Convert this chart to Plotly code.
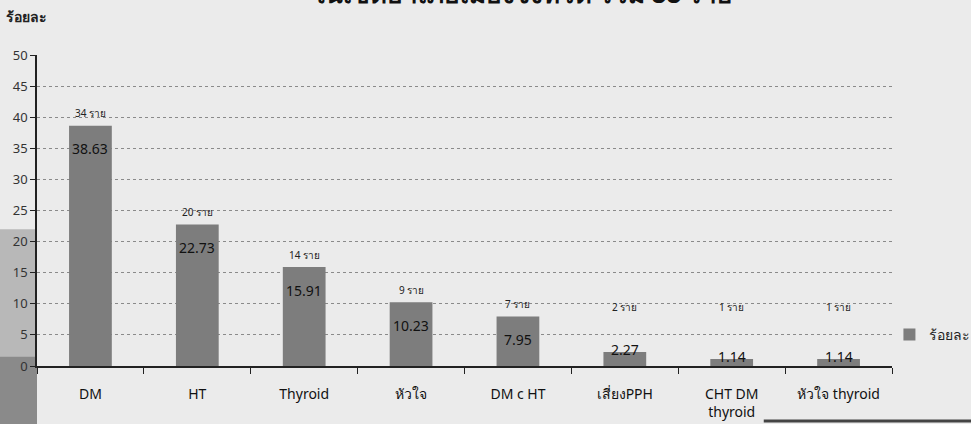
import plotly.graph_objects as go

categories = ["DM", "HT", "Thyroid", "หัวใจ", "DM c HT", "เสี่ยงPPH", "CHT DM<br>thyroid", "หัวใจ thyroid"]
percent = [38.63, 22.73, 15.91, 10.23, 7.95, 2.27, 1.14, 1.14]
cases = [34, 20, 14, 9, 7, 2, 1, 1]
series_name = "ร้อยละ"
title_text = "ในเขตอำเภอเมืองจังหวัด รวม 88 ราย"
y_ticks = [0, 5, 10, 15, 20, 25, 30, 35, 40, 45, 50]

FONT = "Noto Sans, Tahoma, DejaVu Sans, sans-serif"

fig = go.Figure()
fig.add_trace(go.Bar(
    x=categories, y=percent, name=series_name,
    marker=dict(color="#7d7d7d", line=dict(width=0)),
    width=0.4, showlegend=True,
))

ann = []
for c, v, n in zip(categories, percent, cases):
    if v > 5:
        ann.append(dict(x=c, y=v, text=f"{v:.2f}", showarrow=False, yanchor="middle",
                        yshift=-23, font=dict(size=14, color="#111", family=FONT)))
    else:
        ann.append(dict(x=c, y=v, text=f"{v:.2f}", showarrow=False, yanchor="middle",
                        yshift=2, font=dict(size=14, color="#111", family=FONT)))
    ann.append(dict(x=c, y=max(v + 2, 9.5), text=f"{n} ราย", showarrow=False, yanchor="middle",
                    font=dict(size=10, color="#222", family=FONT)))

ann.append(dict(xref="paper", yref="paper", x=-0.039, y=1.125, xanchor="left", yanchor="middle",
                text="<b>ร้อยละ</b>", showarrow=False, font=dict(size=14, color="#222", family=FONT)))
ann.append(dict(xref="paper", yref="paper", x=0.567, y=1.2, xanchor="center", yanchor="middle",
                text=f"<b>{title_text}</b>", showarrow=False, font=dict(size=26, color="#111", family=FONT)))

shapes = [
    dict(type="rect", xref="paper", yref="paper", x0=-0.05, x1=0.0, y0=-0.2, y1=0.44,
         fillcolor="#b8b8b8", line=dict(width=0), layer="below"),
    dict(type="rect", xref="paper", yref="paper", x0=-0.05, x1=0.0, y0=-0.2, y1=0.03,
         fillcolor="#8a8a8a", line=dict(width=0), layer="below"),
    dict(type="line", xref="paper", yref="paper", x0=0.85, x1=1.1, y0=-0.177, y1=-0.177,
         line=dict(color="#444", width=3)),
]

fig.update_layout(
    width=971, height=424,
    margin=dict(l=37, r=79, t=55, b=58, autoexpand=False),
    paper_bgcolor="#ebebeb", plot_bgcolor="#ebebeb",
    font=dict(family=FONT, color="#222"),
    bargap=0.6,
    annotations=ann, shapes=shapes,
    legend=dict(x=0.997, y=0.1, xanchor="left", yanchor="middle",
                font=dict(size=14, color="#222", family=FONT), bgcolor="rgba(0,0,0,0)",
                itemwidth=30),
    xaxis=dict(showgrid=False, showline=True, linecolor="#222", linewidth=1.5, automargin=False,
               ticks="outside", tickson="boundaries", ticklen=6, tickcolor="#222",
               tickfont=dict(size=14, color="#111", family=FONT), ticklabelstandoff=14),
    yaxis=dict(range=[0, 50], tickvals=y_ticks, showgrid=True, gridcolor="#8a8a8a", automargin=False,
               griddash="dot", gridwidth=1, showline=True, linecolor="#222", linewidth=1.5,
               ticks="outside", ticklen=5, tickcolor="#222", zeroline=False,
               tickfont=dict(size=13, color="#333", family=FONT)),
)

fig.write_html("out.html", config={"displayModeBar": False},
               post_script="document.body.style.margin='0';document.body.style.overflow='hidden';")
